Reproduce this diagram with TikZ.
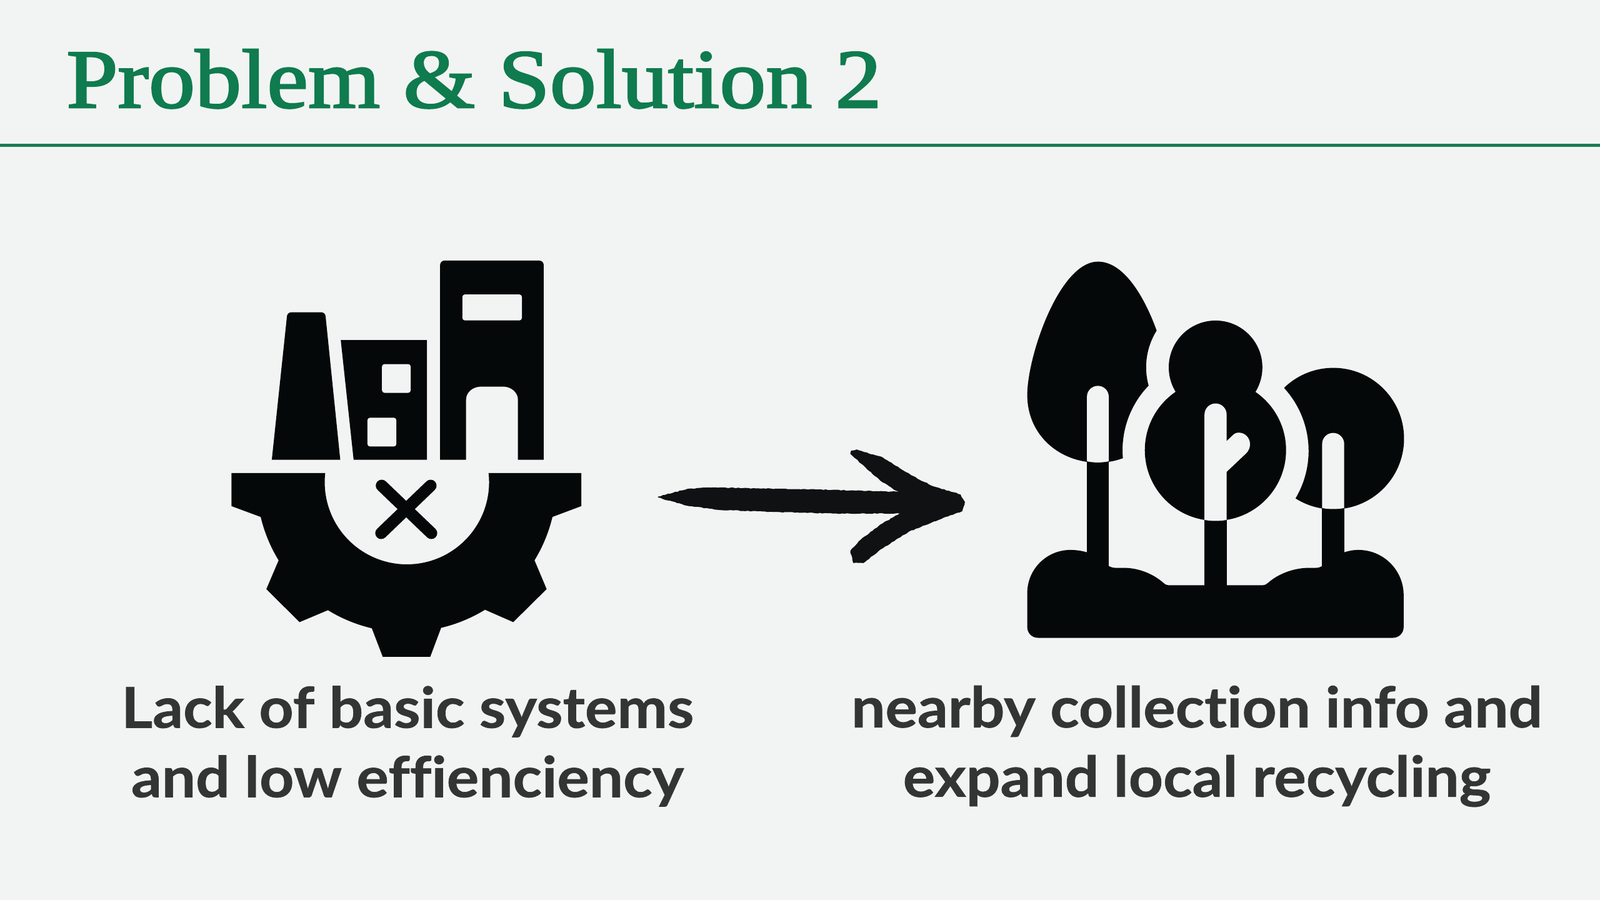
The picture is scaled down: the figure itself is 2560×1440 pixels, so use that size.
\documentclass[tikz,border=0pt]{standalone}
\usepackage{fontspec}
\usetikzlibrary{decorations.pathmorphing}
\newfontfamily\titlefont[FakeStretch=1.105,FakeBold=2.2]{Liberation Serif}
\newfontfamily\bodyfont[Ligatures={NoCommon,NoRequired},FakeStretch=1.07,FakeBold=0.8]{Lato Bold}
\definecolor{pagebg}{HTML}{F2F4F3}
\definecolor{titlegreen}{HTML}{0F7B4F}
\definecolor{rulegreen}{HTML}{1A7D55}
\definecolor{iconink}{HTML}{050809}
\definecolor{arrowink}{HTML}{0F1113}
\definecolor{bodyink}{HTML}{333535}
\tikzset{
  ink/.style={fill=iconink,draw=none},
  hole/.style={fill=pagebg,draw=none},
  caption/.style={font=\bodyfont\fontsize{45}{55.5}\selectfont,text=bodyink,align=center,inner sep=0pt},
}
\begin{document}
\begin{tikzpicture}[x=1pt,y=1pt,xscale=.5,yscale=-.5]
\useasboundingbox (0,0) rectangle (2560,1440);
\fill[pagebg] (0,0) rectangle (2560,1440);
% title and rule
\node[anchor=base west,inner sep=0pt,text=titlegreen,font=\titlefont\fontsize{67}{70}\selectfont] (title) at (106,172) {Problem \& Solution 2};
\coordinate (ruleL) at (0,232.5);
\coordinate (ruleR) at (2560,232.5);
\draw[rulegreen,line width=2.2pt] (ruleL) -- (ruleR);
% factory: chimney
\path[ink] (434.9,735.6) [rounded corners=3pt] -- (459.8,499.7) -- (520.3,499.7) [sharp corners] -- (544.4,735.6) -- cycle;
% factory: middle building
\path[ink] (545.2,544) -- (683.2,544) -- (683.2,735.6) -- (565.8,735.6) -- cycle;
\path[hole,rounded corners=2pt] (611.2,582.5) rectangle (657.1,628.5);
\path[hole,rounded corners=2pt] (587.9,668.4) rectangle (634.2,714.4);
% factory: tall building
\path[ink] (704.2,735.6) [rounded corners=3.5pt] -- (704.2,416.9) -- (869.9,416.9) [sharp corners] -- (869.9,735.6) -- (828.7,735.6) -- (828.7,639) .. controls (828.7,628) and (818,618.5) .. (805,618.5) -- (770,618.5) .. controls (756,618.5) and (745.7,628) .. (745.7,639) -- (745.7,735.6) -- cycle;
\path[hole,rounded corners=2pt] (739.8,471.1) rectangle (835,512.7);
% gear
\path[ink] (370.4,756.9) -- (370.4,809.8) -- (417.1,827.1)
  arc[start angle=166.54,end angle=148.53,radius=240]
  -- (426.2,942.5) -- (479.2,995.4) -- (524.7,976.3)
  arc[start angle=121.5,end angle=103.3,radius=240]
  -- (612.4,1050.9) -- (688.4,1050.9) -- (705.8,1004.5)
  arc[start angle=76.7,end angle=58.5,radius=240]
  -- (821.2,995.4) -- (874.6,942.5) -- (855.2,896.5)
  arc[start angle=31.47,end angle=13.46,radius=240]
  -- (930,809.8) -- (930,756.9) -- (781.7,756.9)
  arc[start angle=-6.37,end angle=186.37,radius=131.5] -- cycle;
\draw[iconink,line width=9.5pt,line cap=round] (610.7,777) -- (690.1,853) (689,777) -- (609.9,853);
% arrow
\path[fill=arrowink,draw=arrowink,line width=.8pt,line join=round,decorate,decoration={random steps,segment length=2pt,amplitude=.3pt}]
  (1053.4,795.3) -- (1098.9,783.3) -- (1133.3,780.7) -- (1305.5,784) -- (1439.8,787.7)
  -- (1408.8,768.3) -- (1384.7,746.7) -- (1361.3,726) -- (1362.3,721.7) -- (1370.9,720)
  -- (1412.2,732.7) -- (1457,760.7) -- (1491.4,778.3) -- (1536.2,791.7) -- (1543,803.3)
  -- (1539,817.3) -- (1494.9,833.3) -- (1453.6,850) -- (1408.8,878.3) -- (1381.2,900)
  -- (1365.7,900) -- (1361.3,881.7) -- (1374.4,866.7) -- (1408.8,840) -- (1443.2,820.7)
  -- (1339.9,821) -- (1236.6,818.3) -- (1150.5,815) -- (1098.9,808.3) -- cycle;
% ground
\path[ink] (1660.6,1020.5) arc[start angle=90,end angle=180,radius=17]
  -- (1643.6,948.9) arc[start angle=180,end angle=270,radius=69]
  .. controls (1722,879.9) and (1731,881.3) .. (1739.1,883.7)
  -- (1774,905.6) .. controls (1778,907.5) and (1780,908.5) .. (1784,908.5)
  -- (1796.8,908.5) .. controls (1822,908.5) and (1845,918) .. (1862,933)
  .. controls (1864,934.8) and (1866,936.3) .. (1869,936.3)
  -- (2021,936.3) .. controls (2024,936.3) and (2026,934.8) .. (2028.3,933)
  .. controls (2045,918) and (2070,908.5) .. (2095.6,908.5)
  -- (2106,908.5) .. controls (2110,908.5) and (2112,907.5) .. (2115.4,905.6)
  -- (2150.7,883.7) .. controls (2158,881.3) and (2165,879.9) .. (2173.5,879.9)
  arc[start angle=270,end angle=360,radius=72.3]
  -- (2245.8,1003.5) arc[start angle=0,end angle=90,radius=17] -- cycle;
% trunks
\path[ink] (1739.1,730) rectangle (1774,920);
\path[ink] (1927.2,825) rectangle (1962.6,945);
\path[ink] (2115.4,805) rectangle (2150.7,920);
% left tree canopy
\path[ink] (1796.8,733) .. controls (1784,738) and (1770,740.2) .. (1756.8,740.2)
  .. controls (1695,740.2) and (1643.6,696) .. (1643.6,632)
  .. controls (1643.6,570) and (1695,418.6) .. (1756.8,418.6)
  .. controls (1800,418.6) and (1833,480) .. (1850.6,528.9)
  arc[start angle=212,end angle=164.6,radius=110.7]
  arc[start angle=224,end angle=175,radius=148.6] -- cycle;
% middle tree canopy
\path[ink] (1944.9,587.8) circle[radius=74.9];
\path[ink] (1944.7,720.2) circle[radius=113];
% right tree canopy
\path[ink] (2054.8,620.2) arc[start angle=226.1,end angle=482.3,radius=113.2]
  arc[start angle=30.8,end angle=-42.3,radius=148.6] -- cycle;
% slots
\path[hole] (1739.1,738) -- (1739.1,634.8) arc[start angle=180,end angle=360,radius=17.45] -- (1774,738) .. controls (1765,740.5) and (1748,740.5) .. (1739.1,738) -- cycle;
\path[hole] (1927.2,831.8) -- (1927.2,663.2) arc[start angle=180,end angle=360,radius=17.7] -- (1962.6,705.7) -- (1971.5,697.2)
  .. controls (1975,693.5) and (1978,692.2) .. (1982,692.2)
  .. controls (1992,692.2) and (2000,700.5) .. (2000,710.7)
  .. controls (2000,716) and (1998,721) .. (1994.6,724.6)
  -- (1962.6,754.9) -- (1962.6,831.8) .. controls (1953,834) and (1937,834) .. (1927.2,831.8) -- cycle;
\path[hole] (2115.4,812.8) -- (2115.4,710.3) arc[start angle=180,end angle=360,radius=17.65] -- (2150.7,812.8) .. controls (2141,815) and (2125,815) .. (2115.4,812.8) -- cycle;
% captions
\node[caption] (capL) at (652,1194) {Lack of basic systems\\and low effienciency};
\node[caption] (capR) at (1915,1194) {nearby collection info and\\expand local recycling};
\end{tikzpicture}
\end{document}
